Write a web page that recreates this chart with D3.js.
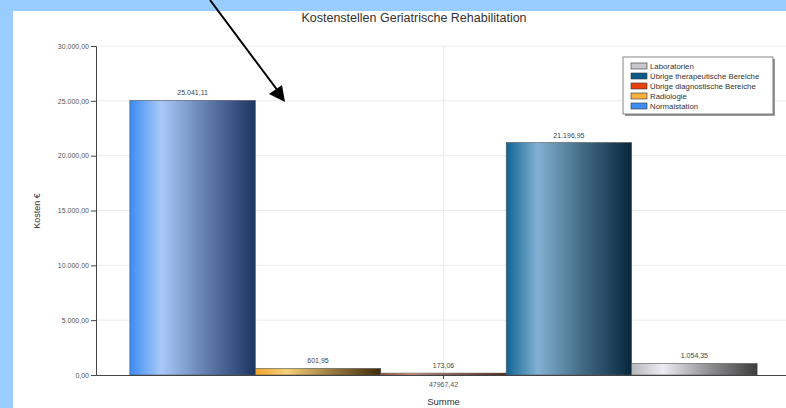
<!DOCTYPE html>
<html>
<head>
<meta charset="utf-8">
<script src="https://cdn.jsdelivr.net/npm/d3@7"></script>
<style>
  html, body { margin: 0; padding: 0; background: #99ccff; }
  svg { display: block; font-family: "Liberation Sans", Arial, sans-serif; }
</style>
</head>
<body>
<svg id="chart" width="786" height="408"></svg>
<script>
// Cost centres of the geriatric rehabilitation unit
const categories = ["47967,42"];
const seriesNames = ["Normalstation", "Radiologie", "Übrige diagnostische Bereiche", "Übrige therapeutische Bereiche", "Laboratorien"];
const seriesValues = [25041.11, 601.95, 173.06, 21196.95, 1054.35];
const valueLabels = ["25.041,11", "601,95", "173,06", "21.196,95", "1.054,35"];
const yTicks = [0, 5000, 10000, 15000, 20000, 25000, 30000];
const legendOrder = ["Laboratorien", "Übrige therapeutische Bereiche", "Übrige diagnostische Bereiche", "Radiologie", "Normalstation"];

// gradient stops per series: left, highlight, right
const palettes = {
  "Normalstation": ["#3b8cf4", "#a9c9fa", "#1c3563"],
  "Radiologie": ["#f0a52a", "#f7d07a", "#3e2a08"],
  "Übrige diagnostische Bereiche": ["#b8502c", "#d8a090", "#4a1808"],
  "Übrige therapeutische Bereiche": ["#0f6496", "#82b2d2", "#06263c"],
  "Laboratorien": ["#b8b8bc", "#ececf2", "#3c3c3c"]
};
const legendColors = {
  "Laboratorien": "#c8c8cc",
  "Übrige therapeutische Bereiche": "#0c5a88",
  "Übrige diagnostische Bereiche": "#e8400c",
  "Radiologie": "#f8b040",
  "Normalstation": "#3f8ef2"
};

const svg = d3.select("#chart");
const W = 786, H = 408;
const plot = { left: 96, right: 791, top: 46, bottom: 375 };

// white panel
svg.append("rect").attr("x", 13).attr("y", 11).attr("width", W - 13).attr("height", H - 11).attr("fill", "#ffffff");

const defs = svg.append("defs");
seriesNames.forEach((s, i) => {
  const p = palettes[s];
  const g = defs.append("linearGradient").attr("id", "grad" + i).attr("x1", "0").attr("x2", "1").attr("y1", "0").attr("y2", "0");
  g.append("stop").attr("offset", "0").attr("stop-color", p[0]);
  g.append("stop").attr("offset", "0.25").attr("stop-color", p[1]);
  g.append("stop").attr("offset", "0.6").attr("stop-color", d3.interpolateRgb(p[1], p[2])(0.5));
  g.append("stop").attr("offset", "1").attr("stop-color", p[2]);
});

const y = d3.scaleLinear().domain([0, 30000]).range([plot.bottom, plot.top]);
const x0 = d3.scaleBand().domain(categories).range([plot.left, plot.right]).paddingOuter(0.054).paddingInner(0);
const x1 = d3.scaleBand().domain(seriesNames).range([0, x0.bandwidth()]).padding(0);

// title
svg.append("text").attr("x", 414).attr("y", 22).attr("text-anchor", "middle")
  .attr("font-size", 12.5).attr("fill", "#333").text("Kostenstellen Geriatrische Rehabilitation");

// gridlines
svg.append("g").selectAll("line").data(yTicks.filter(d => d > 0)).join("line")
  .attr("x1", plot.left).attr("x2", W).attr("y1", d => y(d)).attr("y2", d => y(d))
  .attr("stroke", "#ebebeb").attr("stroke-width", 1);
const cx = x0(categories[0]) + x0.bandwidth() / 2;
svg.append("line").attr("x1", cx).attr("x2", cx).attr("y1", plot.top).attr("y2", plot.bottom)
  .attr("stroke", "#ebebeb");

// y axis
const fmt = d => d3.format(",.2f")(d).replace(/,/g, "#").replace(".", ",").replace(/#/g, ".");
const yAxis = svg.append("g").attr("transform", `translate(${plot.left},0)`)
  .call(d3.axisLeft(y).tickValues(yTicks).tickFormat(fmt).tickSize(5).tickPadding(2));
yAxis.select(".domain").attr("stroke", "#444");
yAxis.selectAll(".tick line").attr("stroke", "#444");
yAxis.selectAll("text").attr("font-size", 7).attr("fill", "#555").attr("font-family", "Liberation Sans, Arial, sans-serif");

svg.append("text").attr("transform", `translate(40,211) rotate(-90)`).attr("text-anchor", "middle")
  .attr("font-size", 9).attr("fill", "#333").text("Kosten €");

// bars
const barG = svg.append("g");
seriesNames.forEach((s, i) => {
  const bx = x0(categories[0]) + x1(s);
  const v = seriesValues[i];
  barG.append("rect").attr("x", bx).attr("y", y(v)).attr("width", x1.bandwidth()).attr("height", y(0) - y(v))
    .attr("fill", `url(#grad${i})`).attr("stroke", "#555").attr("stroke-width", 0.6);
  barG.append("text").attr("x", bx + x1.bandwidth() / 2).attr("y", y(v) - 5).attr("text-anchor", "middle")
    .attr("font-size", 7).attr("fill", "#444").text(valueLabels[i]);
});

// x axis
const xAxis = svg.append("g").attr("transform", `translate(0,${plot.bottom})`)
  .call(d3.axisBottom(x0).tickSize(4).tickPadding(3).tickSizeOuter(0));
xAxis.select(".domain").attr("stroke", "#444");
xAxis.selectAll(".tick line").attr("stroke", "#444");
xAxis.selectAll("text").attr("font-size", 7).attr("fill", "#555").attr("font-family", "Liberation Sans, Arial, sans-serif");
svg.append("text").attr("x", cx).attr("y", 405).attr("text-anchor", "middle")
  .attr("font-size", 9.5).attr("fill", "#333").text("Summe");

// legend
const lg = svg.append("g").attr("transform", "translate(623,57)");
lg.append("rect").attr("x", 2).attr("y", 2).attr("width", 150).attr("height", 57).attr("fill", "#999");
lg.append("rect").attr("x", 0).attr("y", 0).attr("width", 150).attr("height", 57).attr("fill", "#fff").attr("stroke", "#666").attr("stroke-width", 0.8);
legendOrder.forEach((s, i) => {
  const ry = 5 + i * 10;
  lg.append("rect").attr("x", 8).attr("y", ry + 1).attr("width", 16).attr("height", 6)
    .attr("fill", legendColors[s]).attr("stroke", "#333").attr("stroke-width", 0.6);
  lg.append("text").attr("x", 27).attr("y", ry + 7).attr("font-size", 7.8).attr("fill", "#333").text(s);
});

// annotation arrow
svg.append("line").attr("x1", 210).attr("y1", 0).attr("x2", 281).attr("y2", 95).attr("stroke", "#000").attr("stroke-width", 2);
svg.append("path").attr("d", "M285,102 L269,94 L282,85 Z").attr("fill", "#000");
</script>
</body>
</html>
